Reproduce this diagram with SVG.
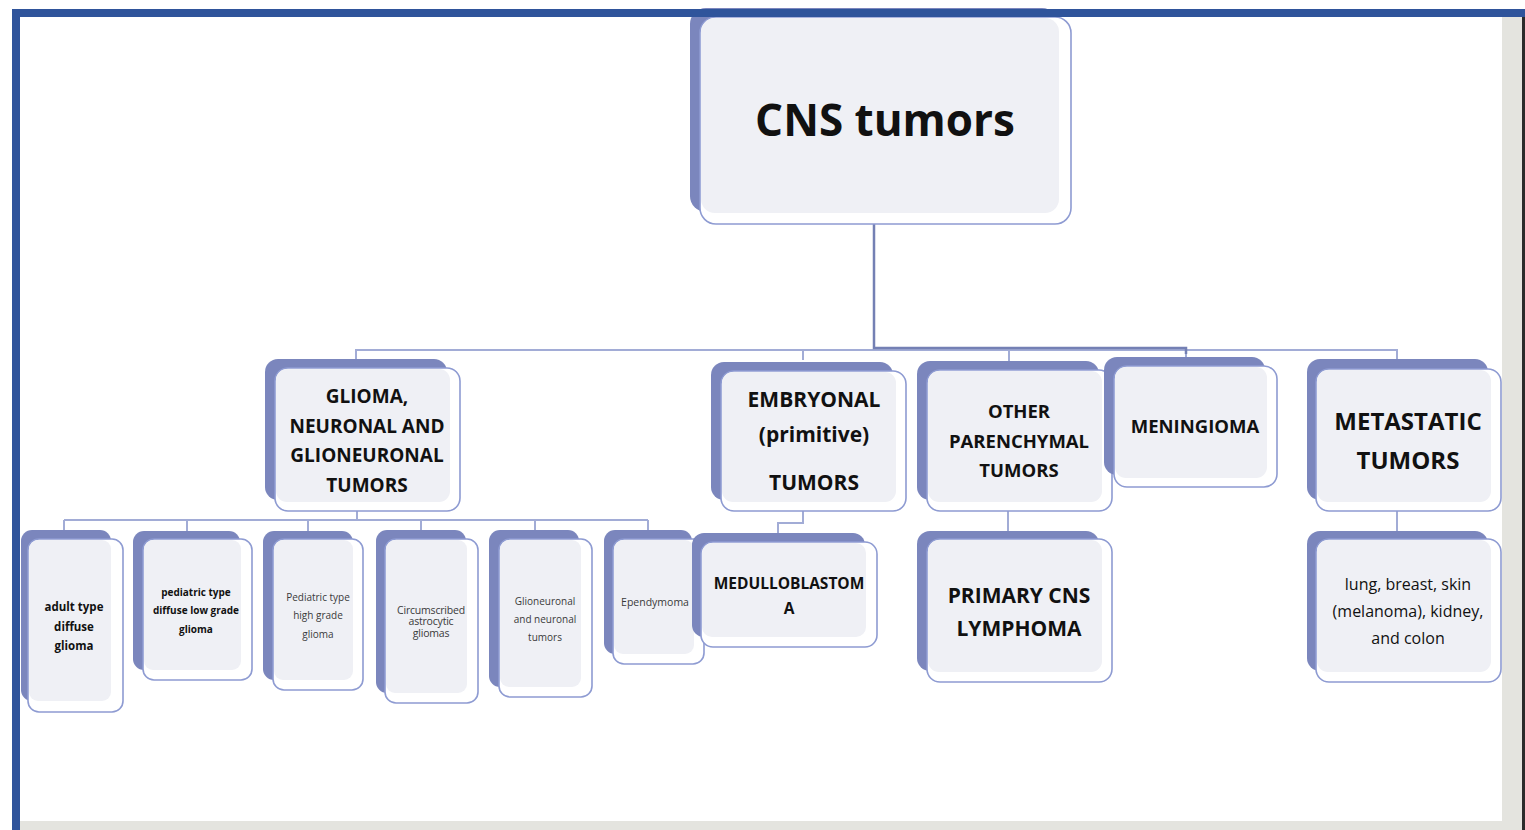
<svg xmlns="http://www.w3.org/2000/svg" width="1525" height="830" viewBox="0 0 1525 830">
<style>
.bk{fill:#7b86bd}
.fr{fill:#ffffff;stroke:#8e9bd2;stroke-width:1.6}
.gr{fill:#eff0f5}
.t{font-family:"Open Sans","Noto Sans",sans-serif;fill:#111;text-anchor:middle}
.b{font-weight:bold}
.g{fill:#3a3a3a}
.cn{fill:none;stroke:#a2acd6;stroke-width:2}
.cd{fill:none;stroke:#7480b4;stroke-width:2.5}
</style>
<rect x="0" y="0" width="1525" height="830" fill="#ffffff"/>
<g id="connectors">
<path class="cn" d="M356 359V350H1397V359"/>
<path class="cn" d="M803 350V360M1009 350V361M1186 350V358"/>
<path class="cd" d="M874 224V348H1186V354"/>
<path class="cn" d="M357 511V520M64 520H648M64 520V531M187 520V531M308 520V531M421 520V531M535 520V531M648 520V531"/>
<path class="cn" d="M803 511V523H778V533"/>
<path class="cn" d="M1008 511V531"/>
<path class="cn" d="M1397 511V531"/>
</g>
<g id="n-cns">
<rect class="bk" x="690" y="8" width="368" height="204" rx="16"/>
<rect class="fr" x="700" y="17" width="371" height="207" rx="16"/>
<rect class="gr" x="701" y="18" width="358" height="195" rx="14"/>
<text class="t b" x="885" y="136" font-size="44">CNS tumors</text>
</g>
<g id="n-glioma">
<rect class="bk" x="265" y="359" width="182" height="141" rx="13"/>
<rect class="fr" x="275" y="368" width="185" height="143" rx="13"/>
<rect class="gr" x="276" y="369" width="174" height="133" rx="11"/>
<text class="t b" font-size="19"><tspan x="367" y="403">GLIOMA,</tspan><tspan x="367" y="433">NEURONAL AND</tspan><tspan x="367" y="462">GLIONEURONAL</tspan><tspan x="367" y="492">TUMORS</tspan></text>
</g>
<g id="n-embryonal">
<rect class="bk" x="711" y="362" width="182" height="138" rx="13"/>
<rect class="fr" x="721" y="371" width="185" height="140" rx="13"/>
<rect class="gr" x="722" y="372" width="174" height="130" rx="11"/>
<text class="t b" font-size="21"><tspan x="814" y="407">EMBRYONAL</tspan><tspan x="814" y="442">(primitive)</tspan><tspan x="814" y="490">TUMORS</tspan></text>
</g>
<g id="n-other">
<rect class="bk" x="917" y="361" width="182" height="139" rx="13"/>
<rect class="fr" x="927" y="370" width="185" height="141" rx="13"/>
<rect class="gr" x="928" y="371" width="174" height="131" rx="11"/>
<text class="t b" font-size="18.5"><tspan x="1019" y="418">OTHER</tspan><tspan x="1019" y="448">PARENCHYMAL</tspan><tspan x="1019" y="477">TUMORS</tspan></text>
</g>
<g id="n-meningioma">
<rect class="bk" x="1104" y="357" width="161" height="118" rx="13"/>
<rect class="fr" x="1114" y="366" width="163" height="121" rx="13"/>
<rect class="gr" x="1115" y="367" width="152" height="111" rx="11"/>
<text class="t b" x="1195" y="433" font-size="18.5">MENINGIOMA</text>
</g>
<g id="n-metastatic">
<rect class="bk" x="1307" y="359" width="181" height="141" rx="13"/>
<rect class="fr" x="1316" y="369" width="185" height="142" rx="13"/>
<rect class="gr" x="1317" y="370" width="174" height="132" rx="11"/>
<text class="t b" font-size="24"><tspan x="1408" y="430">METASTATIC</tspan><tspan x="1408" y="469">TUMORS</tspan></text>
</g>
<g id="n-adult">
<rect class="bk" x="21" y="530" width="90" height="171" rx="11"/>
<rect class="fr" x="28" y="539" width="95" height="173" rx="11"/>
<rect class="gr" x="29" y="540" width="82" height="161" rx="9"/>
<text class="t b" font-size="11.5"><tspan x="74" y="611">adult type</tspan><tspan x="74" y="631">diffuse</tspan><tspan x="74" y="650">glioma</tspan></text>
</g>
<g id="n-pedlow">
<rect class="bk" x="133" y="531" width="107" height="139" rx="11"/>
<rect class="fr" x="143" y="539" width="109" height="141" rx="11"/>
<rect class="gr" x="144" y="540" width="97" height="130" rx="9"/>
<text class="t b" font-size="10"><tspan x="196" y="596">pediatric type</tspan><tspan x="196" y="614">diffuse low grade</tspan><tspan x="196" y="633">glioma</tspan></text>
</g>
<g id="n-pedhigh">
<rect class="bk" x="263" y="531" width="90" height="149" rx="11"/>
<rect class="fr" x="273" y="539" width="90" height="151" rx="11"/>
<rect class="gr" x="274" y="540" width="79" height="140" rx="9"/>
<text class="t g" font-size="10"><tspan x="318" y="601">Pediatric type</tspan><tspan x="318" y="619">high grade</tspan><tspan x="318" y="638">glioma</tspan></text>
</g>
<g id="n-circ">
<rect class="bk" x="376" y="530" width="90" height="163" rx="11"/>
<rect class="fr" x="385" y="539" width="93" height="164" rx="11"/>
<rect class="gr" x="386" y="540" width="81" height="153" rx="9"/>
<text class="t g" font-size="10.5" letter-spacing="-0.2"><tspan x="431" y="614">Circumscribed</tspan><tspan x="431" y="625">astrocytic</tspan><tspan x="431" y="637">gliomas</tspan></text>
</g>
<g id="n-glioneur">
<rect class="bk" x="489" y="530" width="90" height="157" rx="11"/>
<rect class="fr" x="499" y="539" width="93" height="158" rx="11"/>
<rect class="gr" x="500" y="540" width="81" height="147" rx="9"/>
<text class="t g" font-size="10"><tspan x="545" y="605">Glioneuronal</tspan><tspan x="545" y="623">and neuronal</tspan><tspan x="545" y="641">tumors</tspan></text>
</g>
<g id="n-ependymoma">
<rect class="bk" x="604" y="530" width="88" height="124" rx="11"/>
<rect class="fr" x="613" y="539" width="91" height="125" rx="11"/>
<rect class="gr" x="614" y="540" width="80" height="114" rx="9"/>
<text class="t g" x="655" y="606" font-size="10.5">Ependymoma</text>
</g>
<g id="n-medullo">
<rect class="bk" x="692" y="533" width="173" height="104" rx="12"/>
<rect class="fr" x="701" y="542" width="176" height="105" rx="12"/>
<rect class="gr" x="702" y="543" width="164" height="94" rx="10"/>
<text class="t b" font-size="15.5"><tspan x="789" y="589">MEDULLOBLASTOM</tspan><tspan x="789" y="614">A</tspan></text>
</g>
<g id="n-pcnsl">
<rect class="bk" x="917" y="531" width="182" height="140" rx="13"/>
<rect class="fr" x="927" y="539" width="185" height="143" rx="13"/>
<rect class="gr" x="928" y="540" width="174" height="132" rx="11"/>
<text class="t b" font-size="21"><tspan x="1019" y="603">PRIMARY CNS</tspan><tspan x="1019" y="636">LYMPHOMA</tspan></text>
</g>
<g id="n-lung">
<rect class="bk" x="1307" y="531" width="181" height="140" rx="13"/>
<rect class="fr" x="1316" y="539" width="185" height="143" rx="13"/>
<rect class="gr" x="1317" y="540" width="174" height="132" rx="11"/>
<text class="t" font-size="16" fill="#222"><tspan x="1408" y="590">lung, breast, skin</tspan><tspan x="1408" y="617">(melanoma), kidney,</tspan><tspan x="1408" y="644">and colon</tspan></text>
</g>
<g id="frame">
<rect x="1502" y="17" width="20" height="813" fill="#e4e4df"/>
<rect x="1522" y="17" width="3" height="813" fill="#2b2b2b"/>
<rect x="20" y="821" width="1482" height="9" fill="#e4e4df"/>
<rect x="12" y="9" width="1513" height="8" fill="#2f549b"/>
<rect x="12" y="9" width="8" height="821" fill="#2f549b"/>
</g>
</svg>
